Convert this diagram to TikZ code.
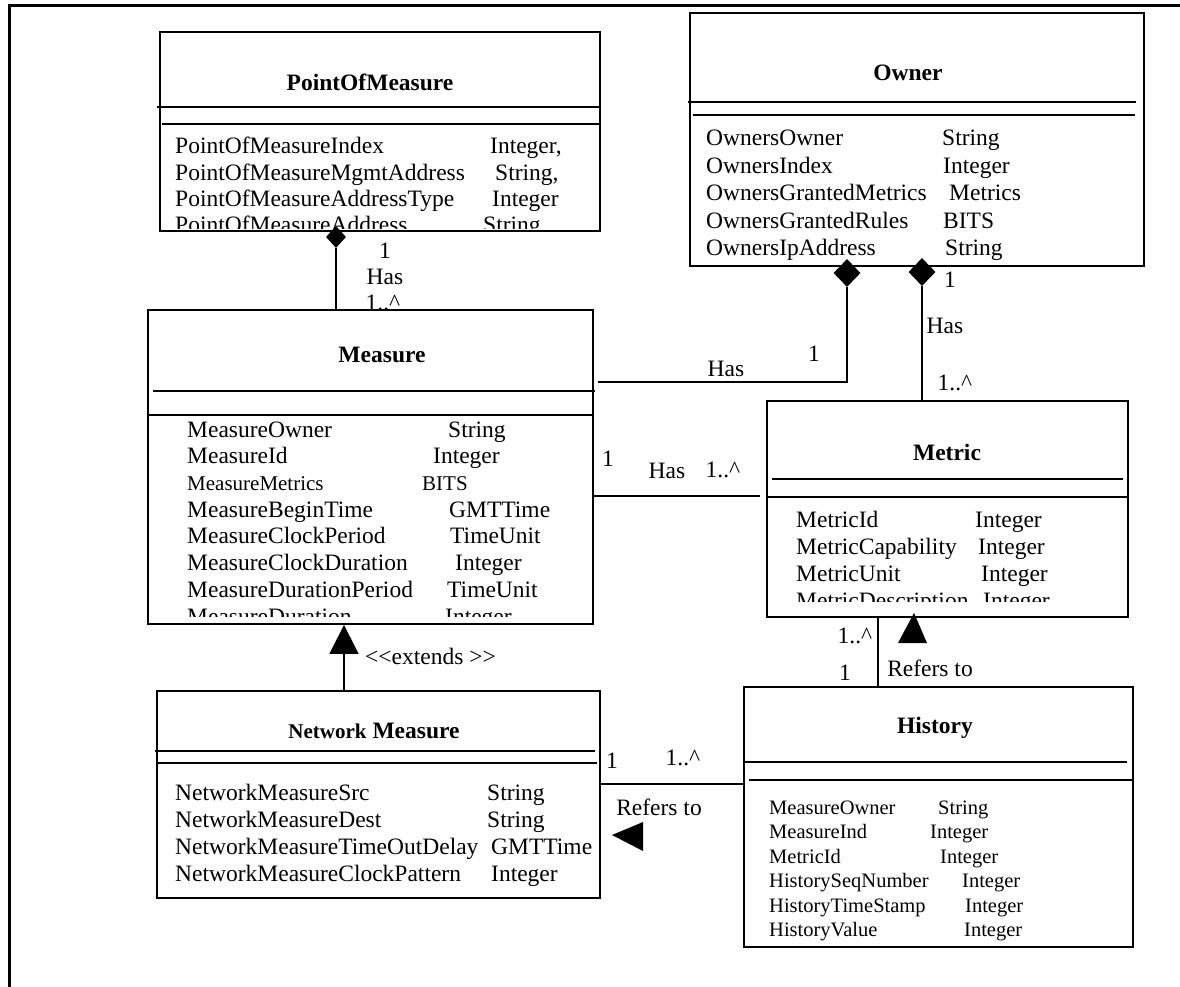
\documentclass[tikz,border=0pt]{standalone}
\usepackage{fontspec}
\setmainfont{Liberation Serif}
\usetikzlibrary{shapes.geometric,arrows.meta}
\newcommand\bodyfont{\fontsize{23.5}{28}\selectfont}
\newcommand\smallerfont{\fontsize{21}{25}\selectfont}
\newcommand\histfont{\fontsize{20.5}{24}\selectfont}
\tikzset{
  classbox/.style={draw, line width=1.8pt, rectangle, inner sep=0pt},
  sepline/.style={line width=1.8pt},
  link/.style={line width=1.6pt},
  attrtxt/.style={inner sep=0pt, anchor=base west, font=\bodyfont},
  histtxt/.style={inner sep=0pt, anchor=base west, font=\histfont},
  classtitle/.style={inner sep=0pt, anchor=base, font=\bodyfont\bfseries},
  assoc/.style={inner sep=0pt, anchor=base, font=\bodyfont},
  comp/.style={diamond, fill=black, inner sep=0pt},
}
\begin{document}
\begin{tikzpicture}[x=1pt,y=-1pt]
\useasboundingbox (0,0) rectangle (1180,987);
% page frame
\draw[line width=3pt] (9,987) -- (9,6) -- (1180,6);

% ---------- PointOfMeasure ----------
\node[classbox, minimum width=440pt, minimum height=199pt] (pom) at (380,131.5) {};
\draw[sepline] (157,107) -- (600,107);
\draw[sepline] (162,124) -- (599,124);
\node[classtitle] (pomT) at (370,91) {PointOfMeasure};
\begin{scope}
\clip (160,32) rectangle (600,228);
\node[attrtxt] (pom1) at (175,154) {PointOfMeasureIndex};
\node[attrtxt] (pom1t) at (490,154) {Integer,};
\node[attrtxt] (pom2) at (175,180.3) {PointOfMeasureMgmtAddress};
\node[attrtxt] (pom2t) at (495,180.3) {String,};
\node[attrtxt] (pom3) at (175,206.6) {PointOfMeasureAddressType};
\node[attrtxt] (pom3t) at (492,206.6) {Integer};
\node[attrtxt] (pom4) at (175,233) {PointOfMeasureAddress};
\node[attrtxt] (pom4t) at (483,233) {String};
\end{scope}

% ---------- Owner ----------
\node[classbox, minimum width=454pt, minimum height=253pt] (own) at (917,139.5) {};
\draw[sepline] (688,102) -- (1136,102);
\draw[sepline] (693,115) -- (1135,115);
\node[classtitle] (ownT) at (908,81) {Owner};
\node[attrtxt] (own1) at (706,145.5) {OwnersOwner};
\node[attrtxt] (own1t) at (942,145.5) {String};
\node[attrtxt] (own2) at (706,173.1) {OwnersIndex};
\node[attrtxt] (own2t) at (943,173.1) {Integer};
\node[attrtxt] (own3) at (706,200.7) {OwnersGrantedMetrics};
\node[attrtxt] (own3t) at (949,200.7) {Metrics};
\node[attrtxt] (own4) at (706,228.3) {OwnersGrantedRules};
\node[attrtxt] (own4t) at (943,228.3) {BITS};
\node[attrtxt] (own5) at (706,255.9) {OwnersIpAddress};
\node[attrtxt] (own5t) at (945,255.9) {String};

% ---------- Measure ----------
\node[classbox, minimum width=445pt, minimum height=314pt] (mea) at (370.5,467) {};
\draw[sepline] (153,391) -- (595,391);
\draw[sepline] (148,415) -- (593,415);
\node[classtitle] (meaT) at (382,362) {Measure};
\begin{scope}
\clip (148,310) rectangle (593,616.7);
\node[attrtxt] (mea1) at (187,437) {MeasureOwner};
\node[attrtxt] (mea1t) at (448,437) {String};
\node[attrtxt] (mea2) at (187,463.7) {MeasureId};
\node[attrtxt] (mea2t) at (433,463.7) {Integer};
\node[attrtxt, font=\smallerfont] (mea3) at (187,490.4) {MeasureMetrics};
\node[attrtxt, font=\smallerfont] (mea3t) at (422,490.4) {BITS};
\node[attrtxt] (mea4) at (187,517.1) {MeasureBeginTime};
\node[attrtxt] (mea4t) at (449,517.1) {GMTTime};
\node[attrtxt] (mea5) at (187,543.8) {MeasureClockPeriod};
\node[attrtxt] (mea5t) at (450,543.8) {TimeUnit};
\node[attrtxt] (mea6) at (187,570.5) {MeasureClockDuration};
\node[attrtxt] (mea6t) at (455,570.5) {Integer};
\node[attrtxt] (mea7) at (187,597.2) {MeasureDurationPeriod};
\node[attrtxt] (mea7t) at (447,597.2) {TimeUnit};
\node[attrtxt] (mea8) at (187,624.5) {MeasureDuration};
\node[attrtxt] (mea8t) at (445,624.5) {Integer};
\end{scope}

% ---------- Metric ----------
\node[classbox, minimum width=361pt, minimum height=216pt] (met) at (947.5,509) {};
\draw[sepline] (772,479) -- (1123,479);
\draw[sepline] (767,497) -- (1128,497);
\node[classtitle] (metT) at (947,460) {Metric};
\begin{scope}
\clip (767,401) rectangle (1128,601.7);
\node[attrtxt] (met1) at (796,527) {MetricId};
\node[attrtxt] (met1t) at (975,527) {Integer};
\node[attrtxt] (met2) at (796,554.3) {MetricCapability};
\node[attrtxt] (met2t) at (978,554.3) {Integer};
\node[attrtxt] (met3) at (796,581.6) {MetricUnit};
\node[attrtxt] (met3t) at (981,581.6) {Integer};
\node[attrtxt] (met4) at (796,608.9) {MetricDescription};
\node[attrtxt] (met4t) at (983,608.9) {Integer};
\end{scope}

% ---------- Network Measure ----------
\node[classbox, minimum width=443pt, minimum height=207pt] (nm) at (378.5,794.5) {};
\draw[sepline] (155,751) -- (595,751);
\draw[sepline] (157,763) -- (597,763);
\node[classtitle] (nmT) at (374,738) {{\smallerfont Network} Measure};
\node[attrtxt] (nm1) at (175,800.5) {NetworkMeasureSrc};
\node[attrtxt] (nm1t) at (487,800.5) {String};
\node[attrtxt] (nm2) at (175,827.5) {NetworkMeasureDest};
\node[attrtxt] (nm2t) at (487,827.5) {String};
\node[attrtxt] (nm3) at (175,854.5) {NetworkMeasureTimeOutDelay};
\node[attrtxt] (nm3t) at (491,854.5) {GMTTime};
\node[attrtxt] (nm4) at (175,881.5) {NetworkMeasureClockPattern};
\node[attrtxt] (nm4t) at (491,881.5) {Integer};

% ---------- History ----------
\node[classbox, minimum width=389pt, minimum height=260pt] (his) at (938.5,817) {};
\draw[sepline] (744,762) -- (1127,762);
\draw[sepline] (749,780) -- (1133,780);
\node[classtitle] (hisT) at (935,733) {History};
\node[histtxt] (his1) at (769,814) {MeasureOwner};
\node[histtxt] (his1t) at (938,814) {String};
\node[histtxt] (his2) at (769,838.5) {MeasureInd};
\node[histtxt] (his2t) at (930,838.5) {Integer};
\node[histtxt] (his3) at (769,863) {MetricId};
\node[histtxt] (his3t) at (940,863) {Integer};
\node[histtxt] (his4) at (769,887.5) {HistorySeqNumber};
\node[histtxt] (his4t) at (962,887.5) {Integer};
\node[histtxt] (his5) at (769,912) {HistoryTimeStamp};
\node[histtxt] (his5t) at (965,912) {Integer};
\node[histtxt] (his6) at (769,936.5) {HistoryValue};
\node[histtxt] (his6t) at (964,936.5) {Integer};

% ---------- PointOfMeasure has Measure ----------
\node[comp, minimum width=20pt, minimum height=22pt] (dPom) at (336,237) {};
\draw[link] (dPom.south) -- (dPom.south |- mea.north);
\node[assoc] (l1a) at (385,258) {1};
\node[assoc] (l1b) at (385,284) {Has};
\node[assoc] (l1c) at (383,310) {1..\textasciicircum};

% ---------- Owner has Measure ----------
\node[comp, minimum width=27pt, minimum height=28pt] (dOwnA) at (847,273) {};
\coordinate (ownMeaEnd) at (598,382);
\draw[link] (dOwnA.south) |- (ownMeaEnd);
\node[assoc] (l2a) at (814,361) {1};
\node[assoc] (l2b) at (726,376) {Has};

% ---------- Owner has Metric ----------
\node[comp, minimum width=27pt, minimum height=28pt] (dOwnB) at (922,272) {};
\draw[link] (dOwnB.south) -- (dOwnB.south |- met.north);
\node[assoc] (l3a) at (950,287) {1};
\node[assoc] (l3b) at (945,333) {Has};
\node[assoc] (l3c) at (955,390) {1..\textasciicircum};

% ---------- Measure has Metric ----------
\coordinate (meaMetEnd) at (760,496);
\draw[link] (mea.east |- meaMetEnd) -- (meaMetEnd);
\node[assoc] (l4a) at (608,466) {1};
\node[assoc] (l4b) at (667,478) {Has};
\node[assoc] (l4c) at (723,477) {1..\textasciicircum};

% ---------- History refers to Metric ----------
\coordinate (hmX) at (878,650);
\draw[link] (met.south -| hmX) -- (his.north -| hmX);
\fill (914,613) -- (927,643) -- (898,643) -- cycle;
\node[assoc] (l5a) at (855,643) {1..\textasciicircum};
\node[assoc] (l5b) at (845,680) {1};
\node[assoc] (l5c) at (930,676) {Refers to};

% ---------- History refers to Network Measure ----------
\coordinate (hnY) at (670,784);
\draw[link] (nm.east |- hnY) -- (his.west |- hnY);
\fill (612,835) -- (643,822) -- (643,851) -- cycle;
\node[assoc] (l6a) at (612,768) {1};
\node[assoc] (l6b) at (683,765) {1..\textasciicircum};
\node[assoc] (l6c) at (659,815) {Refers to};

% ---------- Network Measure extends Measure ----------
\coordinate (extX) at (344,660);
\draw[link, -{Triangle[length=29pt,width=29pt]}] (nm.north -| extX) -- (mea.south -| extX);
\node[attrtxt] (l7) at (365,664) {<\kern0pt<extends >\kern0pt>};
\end{tikzpicture}
\end{document}
